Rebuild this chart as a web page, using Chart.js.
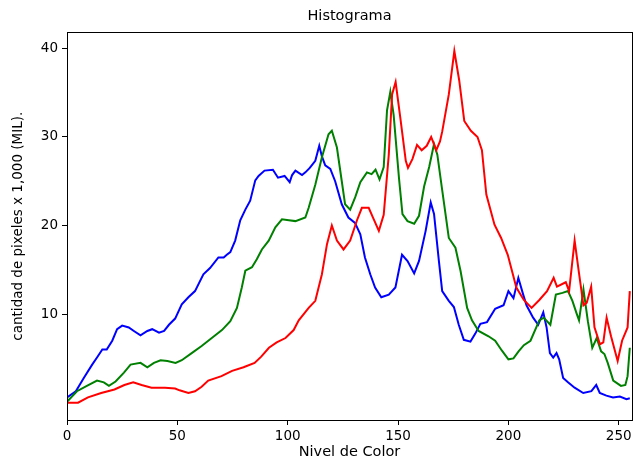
<!DOCTYPE html>
<html>
<head>
<meta charset="utf-8">
<script src="https://cdn.jsdelivr.net/npm/chart.js@4.4.0/dist/chart.umd.min.js"></script>
<style>
  body { margin: 0; background: #fff; }
</style>
</head>
<body>
<canvas id="canvas1" width="637" height="465"></canvas>
<script>
// niveles de color (eje x) y conteos en miles
var blueX = [0,4,7.6,11.4,13.6,16,18,20.5,22.7,25,28,30.3,33.3,36.4,38.6,41.7,44,46.2,49,52,55,58,61.8,64.8,68.6,71,72.4,74,76.2,78.5,80.8,83,85.3,86.8,89.5,93.3,95.6,98.6,100.9,102,103.5,106.5,108,110,112.5,114.3,115.5,117,119.3,121.5,124.5,127.5,130.5,132.9,135,137.4,139.6,142.4,145.8,148.8,151.8,154.3,157.3,159.5,162.5,164.8,166.3,168.5,170,173,175.3,177.5,179.8,182.8,185,187.3,190.3,194,197.8,200,202.3,204.5,206.7,208.2,211.2,213.5,215.8,217.3,218.8,220.3,221.8,223,224.8,227,230,233.9,237.6,239.8,241.4,244.4,247.4,250.5,253.5,255];
var blueY = [0.6,1.3,2.8,4.3,5.1,6.0,6.0,7.0,8.3,8.7,8.5,8.1,7.6,8.1,8.3,7.9,8.1,8.8,9.5,11.1,11.9,12.6,14.5,15.2,16.4,16.4,16.7,17.0,18.3,20.6,21.8,22.8,25.1,25.6,26.2,26.3,25.4,25.6,24.9,25.7,26.2,25.7,26.0,26.5,27.3,29.0,27.8,26.8,26.4,25.0,22.4,20.9,20.3,19.0,16.4,14.5,13.0,11.9,12.2,13.0,16.7,16.0,14.6,16.0,19.4,22.6,21.3,16.0,12.6,11.5,10.8,8.8,7.1,6.9,7.8,8.9,9.1,10.6,11.0,12.6,11.8,14.1,12.2,11.0,9.6,8.8,10.2,8.5,5.6,5.1,5.6,4.9,2.8,2.3,1.7,1.1,1.3,2.0,1.1,0.8,0.6,0.7,0.4,0.5];

var greenX = [0,4.5,9,13.6,16.7,19,22,25.8,28.8,33.3,36.4,39.4,42.4,45.5,49.2,52,56.5,61,65.6,70.2,74,77,79.2,80.8,83.8,86,88.3,91.4,94.4,97.4,100.5,103.5,108,109.5,112.5,115.5,118.5,120,122.3,124.5,126,128.3,130.6,132.9,135.9,138,139.8,141.6,143.5,145,146.5,148,150.4,152,154.3,157.3,159.5,161.8,164.1,166.3,167.8,170,173,176,178.3,181.3,183.5,186.5,191,194,197,200,202.3,204.6,207,210,214,216,219,221.5,224.5,227,229,231,232,234,236,238,240,242,243.5,245,247.5,251,253,254,255];
var greenY = [0.1,1.3,1.9,2.5,2.3,1.9,2.4,3.4,4.3,4.5,4.0,4.5,4.8,4.7,4.5,4.8,5.6,6.4,7.3,8.2,9.2,10.7,13.0,14.9,15.3,16.2,17.3,18.3,19.8,20.7,20.6,20.5,20.9,22.0,24.6,27.7,30.3,30.7,28.8,25.0,22.4,21.8,23.2,24.9,26.0,25.8,26.3,25.2,26.6,33.0,35.1,32.5,25.4,21.3,20.5,20.2,21.1,24.4,26.6,29.2,28.0,24.0,18.6,17.5,14.9,10.7,9.3,8.1,7.5,7.0,5.9,4.9,5.0,5.8,6.5,7.0,9.3,9.6,8.8,12.2,12.4,12.6,11.5,10.0,9.3,12.8,9.2,6.2,7.3,5.8,5.5,4.5,2.5,1.9,2.0,3.0,6.2];

var redX = [0,5,9.5,15.5,21.5,26,30,33.8,38.3,44.4,49,51,55,58,61,64,70,74.8,80,85,88,91.5,95,99,102.7,105,109.5,112.5,115.5,117.8,120,122.3,125.3,128.3,131.4,133.6,136.7,139,141.3,143.5,145.8,147.3,148.9,151,153.5,154.5,156.5,158.6,160.7,163,165,167.3,169,170,173,175.5,177.7,180,183,186,188,190,193.7,196.7,199.7,203.6,207,210.5,214,217.5,220.5,222,226,227.5,230,232,234,235.5,237.5,239,241.5,243,244.5,246.5,249.5,251.5,254,255];
var redY = [0.0,0.0,0.6,1.1,1.5,2.0,2.3,2.0,1.7,1.7,1.6,1.4,1.1,1.3,1.8,2.5,3.0,3.6,4.0,4.5,5.2,6.2,6.8,7.3,8.2,9.3,10.7,11.5,14.5,17.9,20.0,18.3,17.3,18.3,20.6,22.0,22.0,20.7,19.4,21.2,28.0,34.8,36.2,32.2,27.3,26.5,27.5,29.1,28.5,29.0,30.0,28.5,29.5,30.6,34.8,39.7,36.4,31.8,30.7,30.0,28.5,23.5,20.1,18.6,16.7,13.0,11.6,10.7,11.6,12.6,14.1,13.1,13.6,12.6,18.3,14.6,11.0,11.3,13.1,8.5,6.6,6.8,9.6,7.5,4.7,7.0,8.5,12.6];

var xTicks = [0, 50, 100, 150, 200, 250];
var yTicks = [10, 20, 30, 40];

var fuente = "'DejaVu Sans', sans-serif";

function puntos(xs, ys)
{
    var out = [];
    for (var i = 0; i < xs.length; i++) {
        out.push({x: xs[i], y: ys[i]});
    }
    return out;
}

function serie(xs, ys, color)
{
    return {
        data: puntos(xs, ys),
        borderColor: color,
        borderWidth: 2,
        pointRadius: 0,
        tension: 0,
        fill: false
    };
}

// marco completo de los ejes (estilo matplotlib)
var marco = {
    id: 'marco',
    afterDraw: function(chart) {
        var a = chart.chartArea;
        var ctx = chart.ctx;
        ctx.save();
        ctx.strokeStyle = '#000';
        ctx.lineWidth = 1;
        ctx.strokeRect(Math.round(a.left) + 0.5, Math.round(a.top) + 0.5, Math.round(a.right - a.left), Math.round(a.bottom - a.top));
        ctx.restore();
    }
};

var ctx = document.getElementById("canvas1");
new Chart(ctx, {
    type: 'line',
    data: {
        // rojo primero para que quede encima
        datasets: [
            serie(redX, redY, '#ff0000'),
            serie(greenX, greenY, '#008000'),
            serie(blueX, blueY, '#0000ff')
        ]
    },
    options: {
        animation: false,
        responsive: false,
        layout: { padding: { right: 5 } },
        plugins: {
            legend: { display: false },
            tooltip: { enabled: false },
            title: {
                display: true,
                text: 'Histograma',
                fullSize: false,
                color: '#000',
                font: { family: fuente, size: 14.5, weight: 'normal' },
                padding: { top: 8, bottom: 7 }
            }
        },
        scales: {
            x: {
                type: 'linear',
                min: 0,
                max: 256,
                afterBuildTicks: function(s) { s.ticks = xTicks.map(function(v) { return {value: v}; }); },
                afterFit: function(s) { s.height = 45; },
                grid: { drawOnChartArea: false, tickLength: 5, color: '#000' },
                border: { color: '#000' },
                ticks: { color: '#000', font: { family: fuente, size: 13.5 }, padding: 3, maxRotation: 0 },
                title: { display: true, text: 'Nivel de Color', color: '#000', font: { family: fuente, size: 14.5 }, padding: { top: 0, bottom: 4 } }
            },
            y: {
                type: 'linear',
                min: -1.95,
                max: 41.8,
                afterBuildTicks: function(s) { s.ticks = yTicks.map(function(v) { return {value: v}; }); },
                afterFit: function(s) { s.width = 67; },
                grid: { drawOnChartArea: false, tickLength: 5, color: '#000' },
                border: { color: '#000' },
                ticks: { color: '#000', font: { family: fuente, size: 13.5 }, padding: 4 },
                title: { display: true, text: 'cantidad de pixeles x 1,000 (MIL).', color: '#000', font: { family: fuente, size: 13.5 }, padding: { top: 10, bottom: 0 } }
            }
        }
    },
    plugins: [marco]
});
</script>
</body>
</html>
